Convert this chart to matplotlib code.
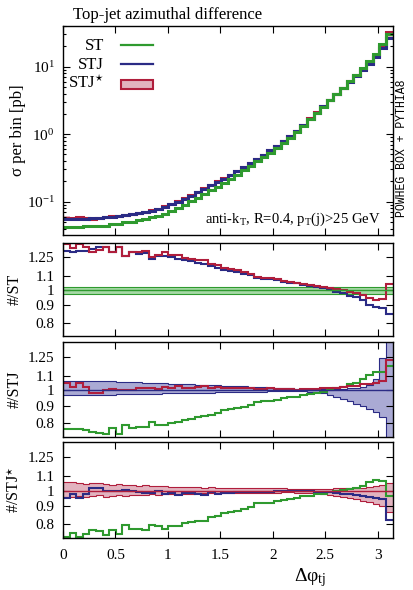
import numpy as np
import matplotlib
matplotlib.use("Agg")
import matplotlib.pyplot as plt
from matplotlib.patches import Rectangle
from matplotlib.ticker import FixedLocator, FixedFormatter, NullLocator, LogLocator

plt.rcParams.update({
    "font.family": "Liberation Serif",
    "mathtext.fontset": "custom",
    "mathtext.rm": "Liberation Serif",
    "mathtext.it": "Liberation Serif:italic",
    "font.size": 11,
})

# --- datos (50 bins en [0, pi]) ---
PHI_MAX = np.pi
# sigma por bin de STJ [pb]
stj = [0.0550, 0.0552, 0.0556, 0.0562, 0.0570, 0.0579, 0.0590, 0.0603, 0.0617, 0.0634,
       0.0653, 0.0676, 0.0703, 0.0736, 0.0785, 0.0841, 0.0912, 0.100, 0.111, 0.123,
       0.138, 0.155, 0.174, 0.195, 0.219, 0.248, 0.282, 0.324, 0.372, 0.427,
       0.495, 0.575, 0.676, 0.794, 0.933, 1.12, 1.38, 1.70, 2.09, 2.57,
       3.16, 3.89, 4.79, 5.89, 7.24, 8.91, 11.0, 13.8, 19.1, 26.3]
# ST / STJ
st_over_stj = [0.769, 0.770, 0.769, 0.765, 0.757, 0.748, 0.744, 0.774, 0.746, 0.791,
               0.774, 0.782, 0.779, 0.809, 0.791, 0.791, 0.800, 0.809, 0.818, 0.822,
               0.833, 0.840, 0.848, 0.860, 0.872, 0.879, 0.885, 0.895, 0.905, 0.925,
               0.928, 0.930, 0.935, 0.946, 0.952, 0.957, 0.967, 0.972, 0.982, 0.990,
               1.000, 1.011, 1.022, 1.039, 1.050, 1.075, 1.105, 1.125, 1.130, 1.175]
# STJ* / STJ
stjs_over_stj = [1.050, 1.022, 1.050, 1.022, 0.982, 0.982, 1.000, 1.005, 1.000, 0.998,
                 1.000, 1.011, 1.016, 1.016, 1.005, 1.022, 1.016, 1.027, 1.016, 1.016,
                 1.022, 1.027, 1.011, 1.022, 1.016, 1.016, 1.011, 1.011, 1.011, 1.008,
                 1.008, 1.011, 1.005, 1.005, 1.005, 1.003, 1.005, 1.005, 1.008, 1.011,
                 1.011, 1.016, 1.020, 1.025, 1.030, 1.040, 1.045, 1.050, 1.060, 1.220]
# bandas relativas de incertidumbre
st_band_lo, st_band_hi = 0.975, 1.022
stj_band_hi = [1.066, 1.066, 1.065, 1.064, 1.063, 1.062, 1.061, 1.060, 1.058, 1.057,
               1.055, 1.053, 1.052, 1.050, 1.048, 1.046, 1.045, 1.043, 1.041, 1.039,
               1.037, 1.036, 1.034, 1.033, 1.031, 1.029, 1.027, 1.025, 1.023, 1.021,
               1.019, 1.017, 1.015, 1.013, 1.011, 1.009, 1.007, 1.006, 1.005, 1.005,
               1.006, 1.008, 1.010, 1.013, 1.017, 1.022, 1.035, 1.080, 1.240, 2.000]
stj_band_lo = [0.966, 0.966, 0.967, 0.967, 0.968, 0.969, 0.970, 0.970, 0.971, 0.972,
               0.973, 0.974, 0.975, 0.976, 0.977, 0.978, 0.979, 0.980, 0.981, 0.982,
               0.982, 0.983, 0.983, 0.984, 0.984, 0.985, 0.986, 0.987, 0.988, 0.989,
               0.990, 0.991, 0.992, 0.993, 0.994, 0.994, 0.993, 0.990, 0.985, 0.978,
               0.968, 0.956, 0.942, 0.928, 0.912, 0.896, 0.880, 0.862, 0.835, 0.500]
stjs_band_hi = [1.062, 1.058, 1.050, 1.048, 1.055, 1.053, 1.045, 1.040, 1.046, 1.038,
                1.035, 1.033, 1.036, 1.030, 1.028, 1.031, 1.026, 1.025, 1.027, 1.022,
                1.023, 1.020, 1.021, 1.019, 1.020, 1.018, 1.017, 1.018, 1.016, 1.016,
                1.015, 1.015, 1.014, 1.014, 1.013, 1.013, 1.012, 1.012, 1.012, 1.013,
                1.013, 1.014, 1.015, 1.016, 1.018, 1.020, 1.024, 1.028, 1.035, 1.050]
stjs_band_lo = [0.955, 0.960, 0.965, 0.958, 0.962, 0.968, 0.960, 0.966, 0.970, 0.965,
                0.972, 0.968, 0.974, 0.975, 0.972, 0.976, 0.978, 0.977, 0.980, 0.979,
                0.981, 0.982, 0.981, 0.983, 0.984, 0.984, 0.985, 0.985, 0.986, 0.986,
                0.987, 0.987, 0.987, 0.988, 0.988, 0.987, 0.986, 0.984, 0.982, 0.978,
                0.973, 0.967, 0.960, 0.952, 0.944, 0.935, 0.925, 0.915, 0.905, 0.868]

R_TICKS = [0.8, 0.9, 1, 1.1, 1.25]
R_TICKLABELS = ["0.8", "0.9", "1", "1.1", "1.25"]
X_TICKS = [0, 0.5, 1, 1.5, 2, 2.5, 3]
X_TICKLABELS = ["0", "0.5", "1", "1.5", "2", "2.5", "3"]

GREEN, BLUE, RED = "#2f9a2f", "#2b2b85", "#b01e3c"
GREEN_F, BLUE_F, RED_F = "#a6d9a6", "#aaaad4", "#e2b3bf"

stj = np.array(stj)
g3 = np.array(st_over_stj)
r3 = np.array(stjs_over_stj)
st = stj * g3
stjs = stj * r3
edges = np.linspace(0, PHI_MAX, len(stj) + 1)

fig = plt.figure(figsize=(4.13, 5.90), dpi=100)
L, W = 0.1525, 0.7983
ax0 = fig.add_axes([L, 0.6017, W, 0.3542])
ax1 = fig.add_axes([L, 0.4305, W, 0.1581])
ax2 = fig.add_axes([L, 0.2593, W, 0.1610])
ax3 = fig.add_axes([L, 0.0886, W, 0.1617])


def style(ax, bottom=False):
    ax.set_xlim(0, PHI_MAX)
    ax.xaxis.set_major_locator(FixedLocator(X_TICKS))
    if bottom:
        ax.xaxis.set_major_formatter(FixedFormatter(X_TICKLABELS))
    else:
        ax.set_xticklabels([])
    ax.tick_params(which="both", direction="in", top=True, right=True, width=0.8)
    ax.tick_params(which="major", length=5, pad=6)
    ax.tick_params(which="minor", length=2.5)
    ax.tick_params(axis="x", pad=8)
    for sp in ax.spines.values():
        sp.set_linewidth(1.0)


# panel superior
ax0.set_yscale("log")
ax0.stairs(stjs * np.array(stjs_band_hi), edges, baseline=stjs * np.array(stjs_band_lo),
           fill=True, color=RED_F, lw=0)
ax0.stairs(stjs, edges, baseline=None, color=RED, lw=2.2)
ax0.stairs(stj, edges, baseline=None, color=BLUE, lw=2.2)
ax0.stairs(st, edges, baseline=None, color=GREEN, lw=2.2)
ax0.set_ylim(0.0321, 40)
ax0.yaxis.set_major_locator(LogLocator(base=10))
ax0.yaxis.set_minor_locator(LogLocator(base=10, subs=np.arange(2, 10)))
style(ax0)
ax0.set_ylabel("σ per bin [pb]", fontsize=12)
ax0.yaxis.set_label_coords(-0.113, 0.5)
ax0.text(0.962, 0.077, r"anti-k$_\mathrm{T}$, R=0.4, p$_\mathrm{T}$(j)>25 GeV",
         transform=ax0.transAxes, ha="right", va="center", fontsize=10.5)

# leyenda manual
for yy, lab, col in [(0.903, "ST", GREEN), (0.812, "STJ", BLUE)]:
    ax0.text(0.125, yy, lab, transform=ax0.transAxes, ha="right", va="center", fontsize=12)
    ax0.plot([0.176, 0.273], [yy + 0.005, yy + 0.005], transform=ax0.transAxes, color=col, lw=1.6)
ax0.text(0.125, 0.724, r"STJ$^{\star}$", transform=ax0.transAxes, ha="right", va="center", fontsize=12)
ax0.add_patch(Rectangle((0.176, 0.698), 0.097, 0.044, transform=ax0.transAxes,
                        fc=RED_F, ec=RED, lw=1.5))


def ratio_panel(ax, lo, hi, fcol, ecol, lines, label, bottom=False):
    lo = np.broadcast_to(lo, len(edges) - 1)
    hi = np.broadcast_to(hi, len(edges) - 1)
    ax.set_yscale("log")
    ax.stairs(hi, edges, baseline=lo, fill=True, color=fcol, lw=0)
    ax.stairs(hi, edges, baseline=None, color=ecol, lw=0.8)
    ax.stairs(lo, edges, baseline=None, color=ecol, lw=0.8)
    ax.axhline(1, color=ecol, lw=1.0)
    for vals, col in lines:
        ax.stairs(vals, edges, baseline=None, color=col, lw=1.5)
    ax.set_ylim(0.73, 1.38)
    ax.yaxis.set_major_locator(FixedLocator(R_TICKS))
    ax.yaxis.set_major_formatter(FixedFormatter(R_TICKLABELS))
    ax.yaxis.set_minor_locator(NullLocator())
    style(ax, bottom)
    ax.set_ylabel(label, fontsize=11.5)
    ax.yaxis.set_label_coords(-0.122, 0.5)


ratio_panel(ax1, st_band_lo, st_band_hi, GREEN_F, GREEN,
            [(1 / g3, BLUE), (r3 / g3, RED)], "#/ST")
ratio_panel(ax2, stj_band_lo, stj_band_hi, BLUE_F, BLUE,
            [(g3, GREEN), (r3, RED)], "#/STJ")
ratio_panel(ax3, stjs_band_lo, stjs_band_hi, RED_F, RED,
            [(g3 / r3, GREEN), (1 / r3, BLUE)], r"#/STJ$^{\star}$", bottom=True)
ax3.set_xlabel(r"Δφ$_\mathrm{tj}$", fontsize=14)
ax3.xaxis.set_label_coords(0.75, -0.30)

fig.text(73 / 413, 1 - 15 / 590, "Top-jet azimuthal difference", ha="left", va="center", fontsize=12)
fig.text(402 / 413, 1 - 148 / 590, "POWHEG BOX + PYTHIA8", rotation=90,
         family="Liberation Mono", fontsize=8.3, ha="center", va="center")

fig.savefig("out.png", dpi=100, facecolor="white")
